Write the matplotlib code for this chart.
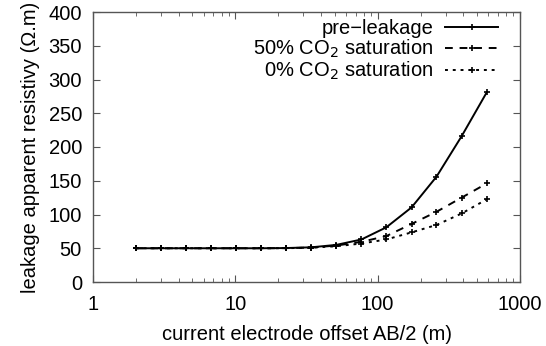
import numpy as np
import matplotlib
matplotlib.use("Agg")
import matplotlib.pyplot as plt
from matplotlib.ticker import LogLocator, FixedLocator, NullFormatter

plt.rcParams["font.family"] = ["Liberation Sans", "DejaVu Sans"]

# electrode offsets AB/2 (m)
ab2 = [2, 3, 4.5, 6.75, 10.1, 15.2, 22.8, 34.2, 51.3, 76.9, 115, 173, 259, 389, 584]

# apparent resistivity (ohm.m)
pre_leakage = [50, 50, 50, 50, 50, 50, 50.3, 51.4, 55, 63, 81, 110.5, 156, 216, 281]
sat_50 = [50, 50, 50, 50, 50, 50, 50.2, 51, 54, 59.5, 68, 86, 104, 125, 146]
sat_0 = [50, 50, 50, 50, 50, 50, 50.1, 50.8, 53, 57, 63, 73.5, 84.5, 101.5, 122.5]

FS = 14.5

fig = plt.figure(figsize=(5.46, 3.46), dpi=100)
ax = fig.add_axes([93 / 546, 1 - 282 / 346, 427 / 546, 270 / 346])

mk = dict(marker="+", markersize=4.5, markeredgewidth=1.2, color="black")
ax.plot(ab2, pre_leakage, linestyle="-", linewidth=1.4, label="pre\u2212leakage", **mk)
ax.plot(ab2, sat_50, linestyle=(0, (4, 3.5)), linewidth=1.4,
        label="50% CO$_2$ saturation", **mk)
ax.plot(ab2, sat_0, linestyle=(0, (1.5, 2.5)), linewidth=1.4,
        label="0% CO$_2$ saturation", **mk)

ax.set_xscale("log")
ax.set_xlim(1, 1000)
ax.set_ylim(0, 400)
ax.set_yticks(np.arange(0, 401, 50))
ax.xaxis.set_major_locator(FixedLocator([1, 10, 100, 1000]))
ax.set_xticklabels(["1", "10", "100", "1000"])
ax.xaxis.set_minor_locator(LogLocator(base=10, subs=np.arange(2, 10)))
ax.xaxis.set_minor_formatter(NullFormatter())

ax.tick_params(which="both", direction="in", top=True, right=True,
               color="#555555", labelsize=FS)
ax.tick_params(axis="y", pad=8)
ax.tick_params(axis="x", pad=9)
ax.tick_params(which="major", length=5)
ax.tick_params(which="minor", length=3)
for s in ax.spines.values():
    s.set_color("#555555")
    s.set_linewidth(1.0)

ax.set_xlabel("current electrode offset AB/2 (m)", fontsize=FS, labelpad=8)
ax.set_ylabel("leakage apparent resistivy (\u03a9.m)", fontsize=FS, labelpad=6)

ax.legend(loc="upper right", frameon=False, markerfirst=False, fontsize=FS,
          handlelength=2.6, handletextpad=0.6, labelspacing=0.0,
          borderaxespad=0, borderpad=0, bbox_to_anchor=(0.948, 0.975))

fig.savefig("out.png", dpi=100)
